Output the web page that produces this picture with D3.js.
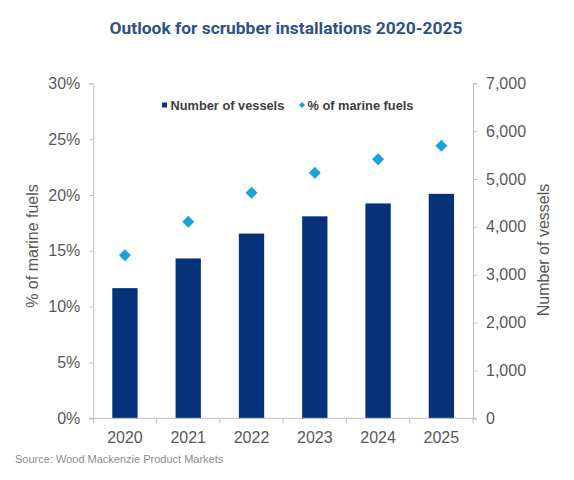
<!DOCTYPE html>
<html>
<head>
<meta charset="utf-8">
<script src="https://cdn.jsdelivr.net/npm/d3@7"></script>
<style>
  body { margin: 0; background: #fff; }
  text { font-family: "Liberation Sans", Arial, sans-serif; }
</style>
</head>
<body>
<div id="chart"></div>
<script>
// chart data
const years = ["2020", "2021", "2022", "2023", "2024", "2025"];
const vessels = [2720, 3340, 3860, 4220, 4490, 4690];
const fuelShare = [14.6, 17.6, 20.2, 22.0, 23.2, 24.4];
const leftTicks = [0, 5, 10, 15, 20, 25, 30];
const rightTicks = [0, 1000, 2000, 3000, 4000, 5000, 6000, 7000];

const width = 574, height = 480;
const margin = { top: 83.3, right: 101, bottom: 61.7, left: 93.3 };

const svg = d3.select("#chart").append("svg")
    .attr("width", width)
    .attr("height", height);

const x = d3.scaleBand()
    .domain(years)
    .range([margin.left, width - margin.right])
    .paddingInner(0.6)
    .paddingOuter(0.3);

const yLeft = d3.scaleLinear()
    .domain([0, 30])
    .range([height - margin.bottom, margin.top]);

const yRight = d3.scaleLinear()
    .domain([0, 7000])
    .range([height - margin.bottom, margin.top]);

// title
svg.append("text")
    .attr("x", 286)
    .attr("y", 34)
    .attr("text-anchor", "middle")
    .style("font-family", "Roboto, sans-serif")
    .style("font-weight", "bold")
    .style("font-size", "17.4px")
    .attr("fill", "#2f5288")
    .text("Outlook for scrubber installations 2020-2025");

// bars
svg.append("g")
    .selectAll("rect")
    .data(years)
    .join("rect")
    .attr("x", d => x(d))
    .attr("width", x.bandwidth())
    .attr("y", (d, i) => yRight(vessels[i]))
    .attr("height", (d, i) => yRight(0) - yRight(vessels[i]))
    .attr("fill", "#06327a");

// diamonds
const dsz = 6;
svg.append("g")
    .selectAll("path")
    .data(years)
    .join("path")
    .attr("transform", (d, i) => `translate(${x(d) + x.bandwidth() / 2},${yLeft(fuelShare[i])})`)
    .attr("d", `M0,${-dsz}L${dsz},0L0,${dsz}L${-dsz},0Z`)
    .attr("fill", "#17a2e0");

// axes
function styleAxis(g) {
    g.selectAll("path, line").attr("stroke", "#bfbfbf");
    g.selectAll("text")
        .attr("fill", "#595959")
        .style("font-size", "16px")
        .style("font-family", "'Liberation Sans', Arial, sans-serif");
}

svg.append("g")
    .attr("transform", `translate(${margin.left},0)`)
    .call(d3.axisLeft(yLeft).tickValues(leftTicks).tickFormat(d => d + "%").tickSizeInner(4).tickSizeOuter(4).tickPadding(9))
    .call(styleAxis);

svg.append("g")
    .attr("transform", `translate(${width - margin.right},0)`)
    .call(d3.axisRight(yRight).tickValues(rightTicks).tickFormat(d3.format(",")).tickSizeInner(4).tickSizeOuter(4).tickPadding(9))
    .call(styleAxis);

// x axis with ticks between categories
const xAxis = svg.append("g")
    .attr("transform", `translate(0,${height - margin.bottom})`);
xAxis.append("line")
    .attr("x1", margin.left - 4)
    .attr("x2", width - margin.right + 4)
    .attr("stroke", "#bfbfbf");
xAxis.selectAll(".sep")
    .data(d3.range(years.length + 1))
    .join("line")
    .attr("x1", i => margin.left + i * x.step())
    .attr("x2", i => margin.left + i * x.step())
    .attr("y2", 5)
    .attr("stroke", "#bfbfbf");
xAxis.selectAll(".lbl")
    .data(years)
    .join("text")
    .attr("x", d => x(d) + x.bandwidth() / 2)
    .attr("y", 25)
    .attr("text-anchor", "middle")
    .attr("fill", "#595959")
    .style("font-size", "16px")
    .text(d => d);

// axis titles
svg.append("text")
    .attr("transform", `translate(38,246) rotate(-90)`)
    .attr("text-anchor", "middle")
    .attr("fill", "#595959")
    .style("font-size", "16px")
    .text("% of marine fuels");

svg.append("text")
    .attr("transform", `translate(549,250) rotate(-90)`)
    .attr("text-anchor", "middle")
    .attr("fill", "#595959")
    .style("font-size", "16px")
    .text("Number of vessels");

// legend
const legend = svg.append("g").attr("transform", "translate(0,105)");
legend.append("rect")
    .attr("x", 162).attr("y", -2.5)
    .attr("width", 5).attr("height", 5)
    .attr("fill", "#06327a");
legend.append("text")
    .attr("x", 170.5).attr("y", 4.5)
    .attr("fill", "#404040")
    .style("font-size", "12.8px")
    .style("font-weight", "bold")
    .text("Number of vessels");
legend.append("path")
    .attr("transform", "translate(302,0)")
    .attr("d", "M0,-3L3,0L0,3L-3,0Z")
    .attr("fill", "#17a2e0");
legend.append("text")
    .attr("x", 307.5).attr("y", 4.5)
    .attr("fill", "#404040")
    .style("font-size", "12.8px")
    .style("font-weight", "bold")
    .text("% of marine fuels");

// source
svg.append("text")
    .attr("x", 15)
    .attr("y", 463)
    .attr("fill", "#8c8c8c")
    .style("font-size", "11px")
    .text("Source: Wood Mackenzie Product Markets");
</script>
</body>
</html>
